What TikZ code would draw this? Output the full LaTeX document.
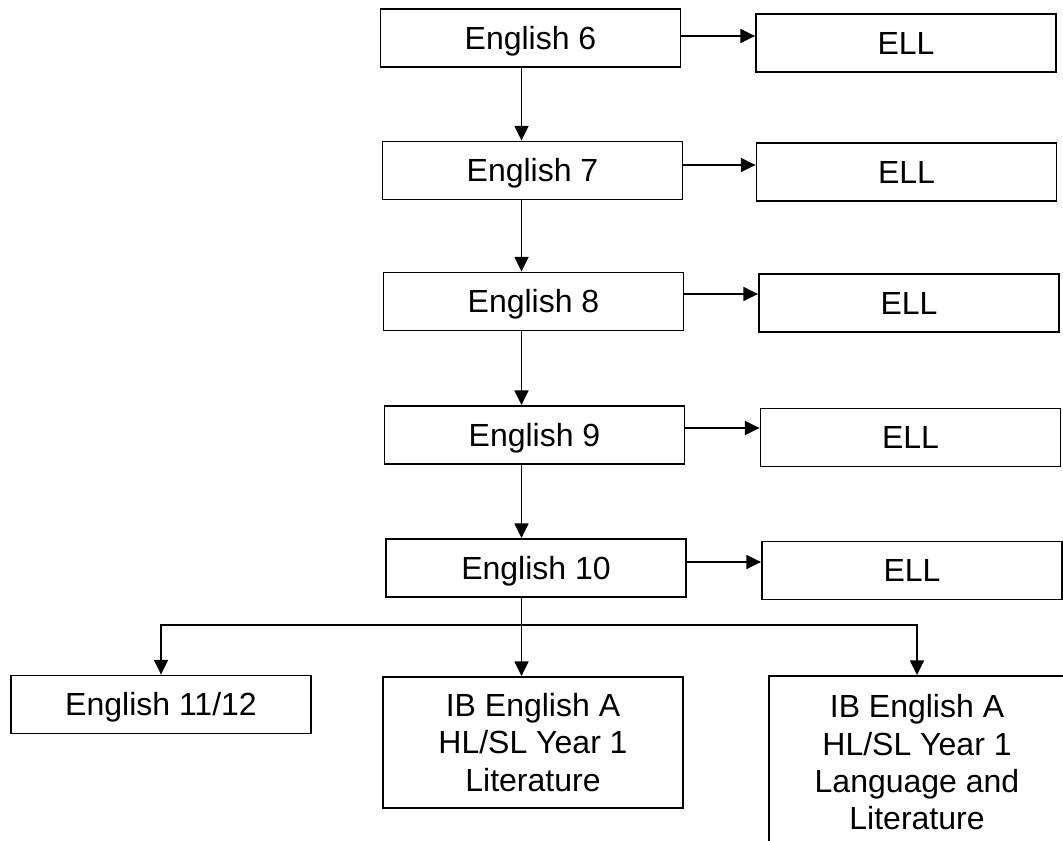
\documentclass[tikz,border=0pt]{standalone}
\usepackage{fontspec}
\setmainfont{Liberation Sans}
\usetikzlibrary{arrows.meta}
\def\Grades{6/530.5/38/906/43/36, 7/532.5/170.5/906.5/172/165, 8/533.5/301.5/909/303/294, 9/534.5/435/910.5/437.5/428, 10/536/568/912/570.5/562}
\def\SpineX{521.5}
\newcommand{\BoxWidth}{225pt}
\newcommand{\BoxHeight}{43.5pt}
\tikzset{Course/.style={
		inner sep=0pt,
		minimum width=\BoxWidth,
		minimum height=\BoxHeight,
		draw=black,
		line width=1.4pt,
		align=center,
		font=\fontsize{24}{28}\selectfont,
	},
	OneLine/.style={
		Course,
		text height=17.2pt,
		text depth=0pt,
	},
	Link/.style={
		line width=1pt,
		-{Triangle[length=11pt,width=10.5pt]},
	}
}

\begin{document}
\begin{tikzpicture}[x=0.75pt,y=-0.75pt]
	\useasboundingbox (0,0) rectangle (1063,841);
	\clip (0,0) rectangle (1063,841);
	\coordinate (spine) at (\SpineX,0);
	\foreach \grade/\ex/\ey/\lx/\ly/\ay in \Grades {%
		\node [OneLine] (eng\grade) at (\ex,\ey) {English \grade};
		\node [OneLine] (ell\grade) at (\lx,\ly) {ELL};
		\coordinate (side\grade) at (0,\ay);
		\draw [Link] (eng\grade.east |- side\grade) -- (ell\grade.west |- side\grade);
	}
	\foreach \upper/\lower in {6/7, 7/8, 8/9, 9/10} {%
		\draw [Link] (eng\upper.south -| spine) -- (eng\lower.north -| spine);
	}
	% after English 10
	\node [OneLine] (regular) at (161,704.5) {English 11/12};
	\node [Course, minimum height=98.25pt] (iblit) at (533,742.5) {IB English A\\HL/SL Year 1\\Literature};
	\node [Course, minimum width=222pt, minimum height=129.75pt] (iblang) at (917,762.5) {IB English A\\HL/SL Year 1\\Language and\\Literature};
	\coordinate (split) at (\SpineX,625);
	\draw [Link] (eng10.south -| spine) -- (iblit.north -| spine);
	\draw [Link] (split) -| (regular.north);
	\draw [Link] (split) -| (iblang.north);
\end{tikzpicture}
\end{document}
